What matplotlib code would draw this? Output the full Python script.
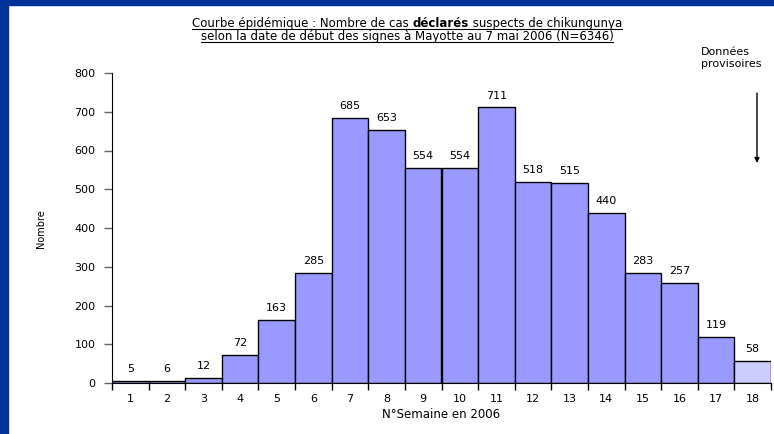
import matplotlib
matplotlib.use("Agg")
from matplotlib import pyplot as plt
from matplotlib.patches import Rectangle, FancyArrowPatch
from matplotlib.lines import Line2D

weeks = list(range(1, 19))
cases = [5, 6, 12, 72, 163, 285, 685, 653, 554, 554, 711, 518, 515, 440, 283, 257, 119, 58]
# the last week is still provisional
provisional = [False] * 17 + [True]

plt.rcParams['font.family'] = ['DejaVu Sans']

W, H = 774, 434
fig = plt.figure(figsize=(W / 100, H / 100), dpi=100)
fig.patch.set_facecolor('white')

# blue slide frame
fig.patches.append(Rectangle((0, 0), 8 / W, 1, transform=fig.transFigure,
                             color='#003399', zorder=0))
fig.patches.append(Rectangle((0, 1 - 5 / H), 1, 5 / H, transform=fig.transFigure,
                             color='#003399', zorder=0))

ax = fig.add_axes([112 / W, 1 - 383 / H, (771 - 112) / W, (383 - 73) / H])
colors = ['#CCCCFF' if p else '#9999FF' for p in provisional]
ax.bar(weeks, cases, width=1.0, color=colors, edgecolor='black', linewidth=1)
for w, c in zip(weeks, cases):
    ax.annotate(str(c), (w, c), xytext=(0, 5), textcoords='offset points',
                ha='center', va='bottom', fontsize=8)

ax.set_xlim(0.5, 18.5)
ax.set_ylim(0, 800)
ax.set_yticks(range(0, 801, 100))
ax.set_xticks([w - 0.5 for w in weeks] + [18.5])
ax.set_xticklabels([])
ax.set_xticks(weeks, minor=True)
ax.set_xticklabels([str(w) for w in weeks], minor=True)
ax.tick_params(axis='x', which='minor', length=0, pad=8, labelsize=8)
ax.tick_params(axis='x', which='major', direction='out', length=5, width=1)
ax.tick_params(axis='y', direction='out', length=6, width=1, color='#666666',
               labelsize=8, pad=6)
for s in ['top', 'right']:
    ax.spines[s].set_visible(False)
ax.set_xlabel('N°Semaine en 2006', fontsize=8.5, labelpad=3)
fig.text(41 / W, 1 - 229 / H, 'Nombre', rotation=90, fontsize=7,
         ha='center', va='center')

# title, two underlined lines with one bold word
fs = 8.5
cx = 407
y1 = 1 - 27 / H
y2 = 1 - 40 / H
parts = [('Courbe épidémique : Nombre de cas ', 'normal'),
         ('déclarés', 'bold'),
         (' suspects de chikungunya', 'normal')]
renderer = fig.canvas.get_renderer()
texts = []
widths = []
for s, wgt in parts:
    t = fig.text(0, y1, s, fontsize=fs, fontweight=wgt, ha='left', va='baseline')
    bb = t.get_window_extent(renderer)
    texts.append(t)
    widths.append(bb.width)
x = cx - sum(widths) / 2
x0_1 = x
for t, wd in zip(texts, widths):
    t.set_x(x / W)
    x += wd
x1_1 = x
t2 = fig.text(cx / W, y2, 'selon la date de début des signes à Mayotte au 7 mai 2006 (N=6346)',
              fontsize=fs, ha='center', va='baseline')
bb2 = t2.get_window_extent(renderer)
fig.lines.append(Line2D([x0_1 / W, x1_1 / W], [y1 - 1.8 / H, y1 - 1.8 / H],
                        transform=fig.transFigure, color='black', lw=0.8))
fig.lines.append(Line2D([bb2.x0 / W, bb2.x1 / W], [y2 - 1.8 / H, y2 - 1.8 / H],
                        transform=fig.transFigure, color='black', lw=0.8))

# provisional data note
fig.text(701 / W, 1 - 58 / H, 'Données\nprovisoires', fontsize=8, ha='left',
         va='center', linespacing=1.15)
fig.patches.append(FancyArrowPatch(
    (757 / W, 1 - 93 / H), (757 / W, 1 - 163 / H), transform=fig.transFigure,
    arrowstyle='-|>', mutation_scale=7, color='black', lw=1, shrinkA=0, shrinkB=0))

fig.savefig('out.png', dpi=100)
